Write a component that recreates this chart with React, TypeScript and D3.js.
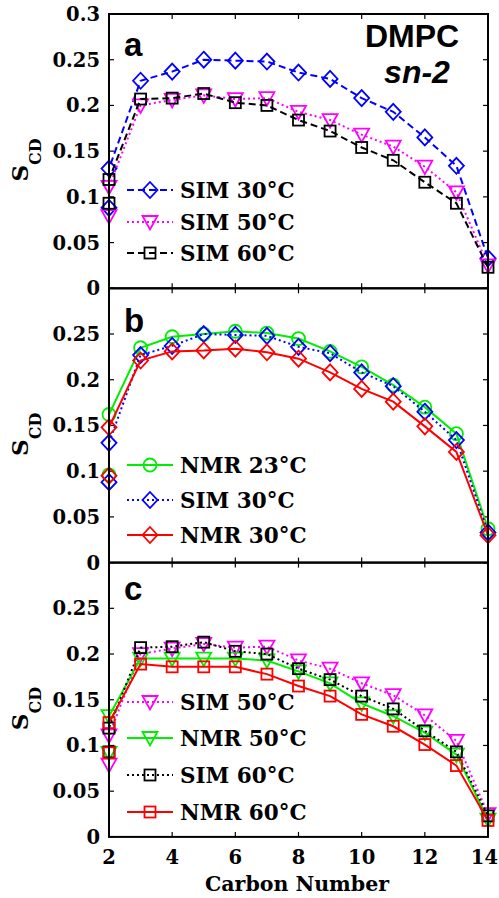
import React from "react";
import * as d3 from "d3";

// ---- data ----
const carbons = [2, 2, 3, 4, 5, 6, 7, 8, 9, 10, 11, 12, 13, 14];
const sim30 = [0.088, 0.131, 0.227, 0.237, 0.25, 0.249, 0.248, 0.236, 0.229, 0.208, 0.193, 0.165, 0.134, 0.033];
const sim50 = [0.079, 0.111, 0.2, 0.206, 0.211, 0.207, 0.208, 0.193, 0.184, 0.168, 0.155, 0.133, 0.105, 0.025];
const sim60 = [0.093, 0.119, 0.207, 0.208, 0.213, 0.203, 0.2, 0.184, 0.172, 0.154, 0.14, 0.116, 0.093, 0.023];
const nmr23 = [0.096, 0.162, 0.235, 0.247, 0.25, 0.253, 0.251, 0.245, 0.231, 0.214, 0.194, 0.17, 0.141, 0.037];
const nmr30 = [0.095, 0.148, 0.221, 0.231, 0.232, 0.234, 0.23, 0.223, 0.208, 0.19, 0.176, 0.149, 0.121, 0.03];
const nmr50 = [0.092, 0.132, 0.195, 0.195, 0.195, 0.195, 0.193, 0.181, 0.168, 0.146, 0.132, 0.114, 0.09, 0.019];
const nmr60 = [0.092, 0.125, 0.189, 0.186, 0.186, 0.186, 0.178, 0.165, 0.154, 0.134, 0.121, 0.101, 0.078, 0.018];

const xTicks = [2, 4, 6, 8, 10, 12, 14];
const yTicksA = [0, 0.05, 0.1, 0.15, 0.2, 0.25, 0.3];
const yTicksBC = [0, 0.05, 0.1, 0.15, 0.2, 0.25];
const panelLetters = ["a", "b", "c"];

type Marker = "diamond" | "triangle" | "square" | "circle";
interface Series {
  name: string;
  values: number[];
  color: string;
  dash: string;
  marker: Marker;
}

const panels: { letter: string; yTicks: number[]; series: Series[]; legendY: number[] }[] = [
  {
    letter: panelLetters[0],
    yTicks: yTicksA,
    series: [
      { name: "SIM 30°C", values: sim30, color: "#0000ff", dash: "7,4", marker: "diamond" },
      { name: "SIM 50°C", values: sim50, color: "#ff00ff", dash: "2,3", marker: "triangle" },
      { name: "SIM 60°C", values: sim60, color: "#000000", dash: "7,4", marker: "square" },
    ],
    legendY: [190, 222, 253],
  },
  {
    letter: panelLetters[1],
    yTicks: yTicksBC,
    series: [
      { name: "NMR 23°C", values: nmr23, color: "#00ee00", dash: "", marker: "circle" },
      { name: "SIM 30°C", values: sim30, color: "#0000ff", dash: "2,3", marker: "diamond" },
      { name: "NMR 30°C", values: nmr30, color: "#ff0000", dash: "", marker: "diamond" },
    ],
    legendY: [465, 500, 535],
  },
  {
    letter: panelLetters[2],
    yTicks: yTicksBC,
    series: [
      { name: "SIM 50°C", values: sim50, color: "#ff00ff", dash: "2,3", marker: "triangle" },
      { name: "NMR 50°C", values: nmr50, color: "#00ee00", dash: "", marker: "triangle" },
      { name: "SIM 60°C", values: sim60, color: "#000000", dash: "2,3", marker: "square" },
      { name: "NMR 60°C", values: nmr60, color: "#ff0000", dash: "", marker: "square" },
    ],
    legendY: [702, 738, 775, 812],
  },
];

const W = 499;
const H = 898;
const LEFT = 109;
const RIGHT = 488;
const TOP = 14;
const PH = 274.3;
const serif = "'DejaVu Serif', serif";
const sans = "'Liberation Sans', Arial, sans-serif";

function MarkerShape({ type, x, y, color }: { type: Marker; x: number; y: number; color: string }) {
  const sw = 1.8;
  if (type === "diamond") {
    return (
      <path
        d={`M${x},${y - 8}L${x + 7.5},${y}L${x},${y + 8}L${x - 7.5},${y}Z`}
        fill="none"
        stroke={color}
        strokeWidth={sw}
      />
    );
  }
  if (type === "triangle") {
    return (
      <path
        d={`M${x - 7.5},${y - 6}L${x + 7.5},${y - 6}L${x},${y + 7.5}Z`}
        fill="none"
        stroke={color}
        strokeWidth={sw}
      />
    );
  }
  if (type === "square") {
    return <rect x={x - 5.5} y={y - 5.5} width={11} height={11} fill="none" stroke={color} strokeWidth={sw} />;
  }
  return <circle cx={x} cy={y} r={6.5} fill="none" stroke={color} strokeWidth={sw} />;
}

export default function App() {
  const x = d3.scaleLinear().domain([2, 14]).range([LEFT, RIGHT]);

  return (
    <svg
      width={W}
      height={H}
      style={{ position: "absolute", left: 0, top: 0, background: "#fff" }}
      xmlns="http://www.w3.org/2000/svg"
    >
      <rect x={0} y={0} width={W} height={H} fill="#fff" />
      {panels.map((p, pi) => {
        const top = TOP + pi * PH;
        const bottom = top + PH;
        const y = d3.scaleLinear().domain([0, 0.3]).range([bottom, top]);
        const line = d3
          .line<number>()
          .x((_, i) => x(carbons[i]))
          .y((v) => y(v));
        return (
          <g key={p.letter}>
            {/* ticks */}
            {xTicks.map((t) => (
              <g key={"xt" + t}>
                <line x1={x(t)} x2={x(t)} y1={bottom} y2={bottom - 5} stroke="#000" strokeWidth={1.2} />
                <line x1={x(t)} x2={x(t)} y1={top} y2={top + 5} stroke="#000" strokeWidth={1.2} />
              </g>
            ))}
            {yTicksA.map((t) => (
              <g key={"yt" + t}>
                <line x1={LEFT} x2={LEFT + 5} y1={y(t)} y2={y(t)} stroke="#000" strokeWidth={1.2} />
                <line x1={RIGHT} x2={RIGHT - 5} y1={y(t)} y2={y(t)} stroke="#000" strokeWidth={1.2} />
              </g>
            ))}
            {p.yTicks.map((t) => (
              <text
                key={"yl" + t}
                x={100}
                y={y(t) + 7}
                textAnchor="end"
                fontFamily={serif}
                fontWeight="bold"
                fontSize={19.5}
              >
                {String(t)}
              </text>
            ))}
            {/* series */}
            {p.series.map((s) => (
              <g key={s.name}>
                <path
                  d={line(s.values) || ""}
                  fill="none"
                  stroke={s.color}
                  strokeWidth={2}
                  strokeDasharray={s.dash || undefined}
                />
                {s.values.map((v, i) => (
                  <MarkerShape key={i} type={s.marker} x={x(carbons[i])} y={y(v)} color={s.color} />
                ))}
              </g>
            ))}
            {/* legend */}
            {p.series.map((s, i) => {
              const ly = p.legendY[i];
              return (
                <g key={"lg" + s.name}>
                  <line
                    x1={127}
                    x2={173}
                    y1={ly}
                    y2={ly}
                    stroke={s.color}
                    strokeWidth={2}
                    strokeDasharray={s.dash || undefined}
                  />
                  <MarkerShape type={s.marker} x={150} y={ly} color={s.color} />
                  <text x={180} y={ly + 8} fontFamily={serif} fontWeight="bold" fontSize={21.5}>
                    {s.name}
                  </text>
                </g>
              );
            })}
            {/* box */}
            <rect x={LEFT} y={top} width={RIGHT - LEFT} height={PH} fill="none" stroke="#000" strokeWidth={2} />
            {/* panel letter */}
            <text x={124} y={top + (pi === 0 ? 42 : pi === 1 ? 44 : 37)} fontFamily={sans} fontWeight="bold" fontSize={33}>
              {p.letter}
            </text>
            {/* y label */}
            <text
              transform={`translate(28, ${top + 146}) rotate(-90)`}
              textAnchor="middle"
              fontFamily={serif}
              fontWeight="bold"
              fontSize={23}
            >
              S
              <tspan fontSize={16} dy={13}>
                CD
              </tspan>
            </text>
          </g>
        );
      })}
      {/* x tick labels */}
      {xTicks.map((t, i) => (
        <text
          key={"xl" + t}
          x={i === xTicks.length - 1 ? 498 : x(t)}
          y={864}
          textAnchor={i === xTicks.length - 1 ? "end" : "middle"}
          fontFamily={serif}
          fontWeight="bold"
          fontSize={19.5}
        >
          {String(t)}
        </text>
      ))}
      <text x={297} y={891} textAnchor="middle" fontFamily={serif} fontWeight="bold" fontSize={20.5}>
        Carbon Number
      </text>
      <text x={412} y={47} textAnchor="middle" fontFamily={sans} fontWeight="bold" fontSize={32}>
        DMPC
      </text>
      <text x={417} y={83} textAnchor="middle" fontFamily={sans} fontWeight="bold" fontStyle="italic" fontSize={32}>
        sn-2
      </text>
    </svg>
  );
}
